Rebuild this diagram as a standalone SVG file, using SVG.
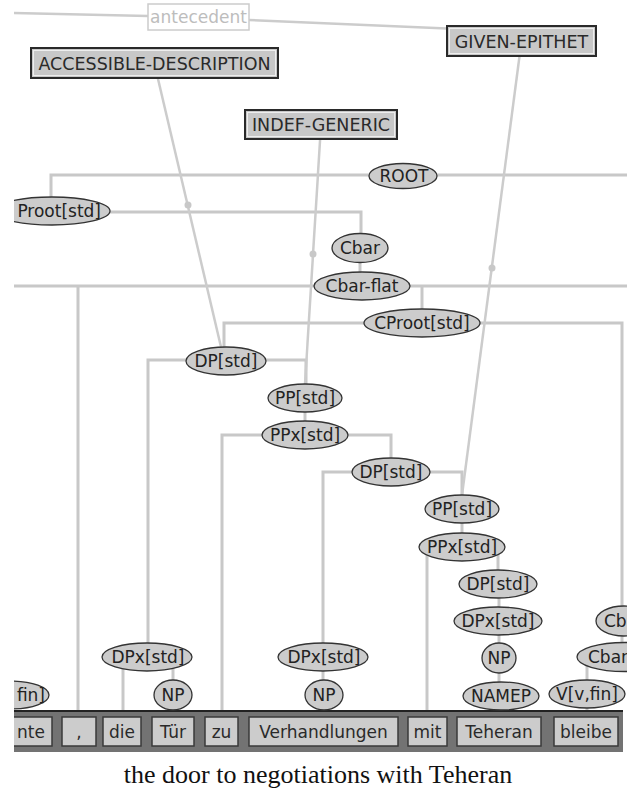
<svg xmlns="http://www.w3.org/2000/svg" width="627" height="789" viewBox="0 0 627 789">
<style>
.bg{fill:#ffffff}
.c{fill:none;stroke:#c8c8c8;stroke-width:3}
.ref{fill:none;stroke:#cccccc;stroke-width:2.5}
.dot{fill:#c8c8c8}
.n ellipse{fill:#cccccc;stroke:#333333;stroke-width:1.3}
.t{font-family:'DejaVu Sans','Liberation Sans',sans-serif;font-size:17px;fill:#222222;text-anchor:middle}
.lb rect.o{fill:#c8c8c8;stroke:#2a2a2a;stroke-width:2}
.lb rect.i{fill:none;stroke:#eeeeee;stroke-width:1}
.lb text{font-family:'DejaVu Sans','Liberation Sans',sans-serif;font-size:17.5px;fill:#2a2a2a;text-anchor:middle}
.w rect{fill:#cccccc;stroke:#3a3a3a;stroke-width:1.5}
.w text{font-family:'DejaVu Sans','Liberation Sans',sans-serif;font-size:17px;fill:#2a2a2a;text-anchor:middle}
.cap{font-family:'Liberation Serif','Times New Roman',serif;font-size:26px;fill:#111111;text-anchor:middle}
</style>
<defs>
<clipPath id="clip"><rect x="14" y="0" width="613" height="760"/></clipPath>
</defs>
<rect class="bg" x="0" y="0" width="627" height="789"/>
<g clip-path="url(#clip)">
<g id="connectors">
<path class="c" d="M51,197 V175 H627"/>
<path class="c" d="M110,212 H361 V233"/>
<path class="c" d="M360,263 V272"/>
<path class="c" d="M14,286 H627"/>
<path class="c" d="M78,286 V717"/>
<path class="c" d="M422,286 V309"/>
<path class="c" d="M224,347 V323 H622 V657"/>
<path class="c" d="M148,643 V360 H306 V384"/>
<path class="c" d="M305,412 V421"/>
<path class="c" d="M222,717 V435 H391 V458"/>
<path class="c" d="M323,643 V472 H462 V495"/>
<path class="c" d="M462,523 V533"/>
<path class="c" d="M427,547 V717"/>
<path class="c" d="M498,547 V570"/>
<path class="c" d="M499,584 V717"/>
<path class="c" d="M123,657 V717"/>
<path class="c" d="M173,657 V717"/>
<path class="c" d="M323,657 V717"/>
<path class="c" d="M587,657 V717"/>
<path class="ref" d="M154.5,64 L221,347"/>
<circle class="dot" cx="188" cy="205" r="3.5"/>
<path class="ref" d="M321,125 L305,384"/>
<circle class="dot" cx="313" cy="254" r="3.5"/>
<path class="ref" d="M521.5,41 L462,495"/>
<circle class="dot" cx="492" cy="268" r="3.5"/>
<path class="ref" d="M14,13 L148,16"/>
<path class="ref" d="M249,20 L447,28.5"/>
</g>
<g id="band">
<rect x="14" y="710" width="609" height="42" fill="#737373"/>
<line x1="14" y1="711" x2="623" y2="711" stroke="#222222" stroke-width="2"/>
</g>
<g id="n-root" class="n"><ellipse cx="403" cy="176" rx="34" ry="12.5"/><text class="t" x="404" y="182">ROOT</text></g>
<g id="n-cproot-left" class="n"><ellipse cx="52" cy="211" rx="58" ry="14"/><text class="t" x="101" y="217" style="text-anchor:end">Proot[std]</text></g>
<g id="n-cbar" class="n"><ellipse cx="360" cy="248" rx="28" ry="14.5"/><text class="t" x="360" y="254">Cbar</text></g>
<g id="n-cbarflat" class="n"><ellipse cx="362" cy="286" rx="48" ry="14"/><text class="t" x="362" y="292">Cbar-flat</text></g>
<g id="n-cproot" class="n"><ellipse cx="422" cy="323" rx="58" ry="14"/><text class="t" x="422" y="329">CProot[std]</text></g>
<g id="n-dp1" class="n"><ellipse cx="226" cy="361" rx="40" ry="14"/><text class="t" x="226" y="367">DP[std]</text></g>
<g id="n-pp1" class="n"><ellipse cx="305" cy="398" rx="37" ry="14"/><text class="t" x="305" y="404">PP[std]</text></g>
<g id="n-ppx1" class="n"><ellipse cx="305" cy="435" rx="43" ry="14"/><text class="t" x="305" y="441">PPx[std]</text></g>
<g id="n-dp2" class="n"><ellipse cx="391" cy="472" rx="39" ry="14"/><text class="t" x="391" y="478">DP[std]</text></g>
<g id="n-pp2" class="n"><ellipse cx="462" cy="509" rx="37" ry="14"/><text class="t" x="462" y="515">PP[std]</text></g>
<g id="n-ppx2" class="n"><ellipse cx="462" cy="547" rx="43" ry="14"/><text class="t" x="462" y="553">PPx[std]</text></g>
<g id="n-dp3" class="n"><ellipse cx="498" cy="584" rx="39" ry="14"/><text class="t" x="498" y="590">DP[std]</text></g>
<g id="n-dpx3" class="n"><ellipse cx="498" cy="621" rx="44" ry="14"/><text class="t" x="498" y="627">DPx[std]</text></g>
<g id="n-np3" class="n"><ellipse cx="499" cy="658" rx="17" ry="15"/><text class="t" x="499" y="664">NP</text></g>
<g id="n-namep" class="n"><ellipse cx="501" cy="696" rx="38" ry="14"/><text class="t" x="501" y="702">NAMEP</text></g>
<g id="n-dpx1" class="n"><ellipse cx="147" cy="657" rx="45" ry="14"/><text class="t" x="148" y="663">DPx[std]</text></g>
<g id="n-np1" class="n"><ellipse cx="173" cy="695" rx="19" ry="15"/><text class="t" x="173" y="701">NP</text></g>
<g id="n-dpx2" class="n"><ellipse cx="323" cy="657" rx="45" ry="14"/><text class="t" x="324" y="663">DPx[std]</text></g>
<g id="n-np2" class="n"><ellipse cx="324" cy="695" rx="19" ry="15"/><text class="t" x="324" y="701">NP</text></g>
<g id="n-vfin" class="n"><ellipse cx="587" cy="694" rx="38" ry="14"/><text class="t" x="587" y="700">V[v,fin]</text></g>
<g id="n-vfin-left" class="n"><ellipse cx="11" cy="695" rx="38" ry="14"/><text class="t" x="45" y="701" style="text-anchor:end">fin]</text></g>
<g id="n-cbar-right" class="n"><ellipse cx="624" cy="621" rx="28" ry="15"/><text class="t" x="604" y="627" style="text-anchor:start">Cb</text></g>
<g id="n-cbarflat-right" class="n"><ellipse cx="625" cy="657" rx="48" ry="14.5"/><text class="t" x="588" y="663" style="text-anchor:start">Cbar</text></g>
<g id="w-konnte" class="w"><rect x="-20" y="717" width="72" height="29"/><text x="45" y="737.5" style="text-anchor:end">nte</text></g>
<g id="w-comma" class="w"><rect x="62" y="717" width="34" height="29"/><text x="79" y="737.5">,</text></g>
<g id="w-die" class="w"><rect x="103" y="717" width="38" height="29"/><text x="122" y="737.5">die</text></g>
<g id="w-tuer" class="w"><rect x="152" y="717" width="42" height="29"/><text x="173" y="737.5">Tür</text></g>
<g id="w-zu" class="w"><rect x="205" y="717" width="33" height="29"/><text x="221.5" y="737.5">zu</text></g>
<g id="w-verhandlungen" class="w"><rect x="249" y="717" width="149" height="29"/><text x="323.5" y="737.5">Verhandlungen</text></g>
<g id="w-mit" class="w"><rect x="408" y="717" width="39" height="29"/><text x="427.5" y="737.5">mit</text></g>
<g id="w-teheran" class="w"><rect x="457" y="717" width="84" height="29"/><text x="499" y="737.5">Teheran</text></g>
<g id="w-bleibe" class="w"><rect x="554" y="717" width="64" height="29"/><text x="586" y="737.5">bleibe</text></g>
<g id="l-antecedent"><rect x="148" y="4" width="101" height="26" fill="#ffffff" stroke="#cccccc" stroke-width="1.5"/><text x="198.5" y="23" style="font-family:'DejaVu Sans','Liberation Sans',sans-serif;font-size:17px;fill:#bdbdbd;text-anchor:middle">antecedent</text></g>
<g id="l-accessible" class="lb"><rect class="o" x="31" y="48" width="247" height="30"/><rect class="i" x="33.5" y="50.5" width="242" height="25"/><text x="154.5" y="69.5">ACCESSIBLE-DESCRIPTION</text></g>
<g id="l-indef" class="lb"><rect class="o" x="245" y="110" width="152" height="29"/><rect class="i" x="247.5" y="112.5" width="147" height="24"/><text x="321" y="131">INDEF-GENERIC</text></g>
<g id="l-given" class="lb"><rect class="o" x="447" y="26" width="149" height="30"/><rect class="i" x="449.5" y="28.5" width="144" height="25"/><text x="521.5" y="47.5">GIVEN-EPITHET</text></g>
</g>
<text class="cap" x="318" y="783">the door to negotiations with Teheran</text>
</svg>
